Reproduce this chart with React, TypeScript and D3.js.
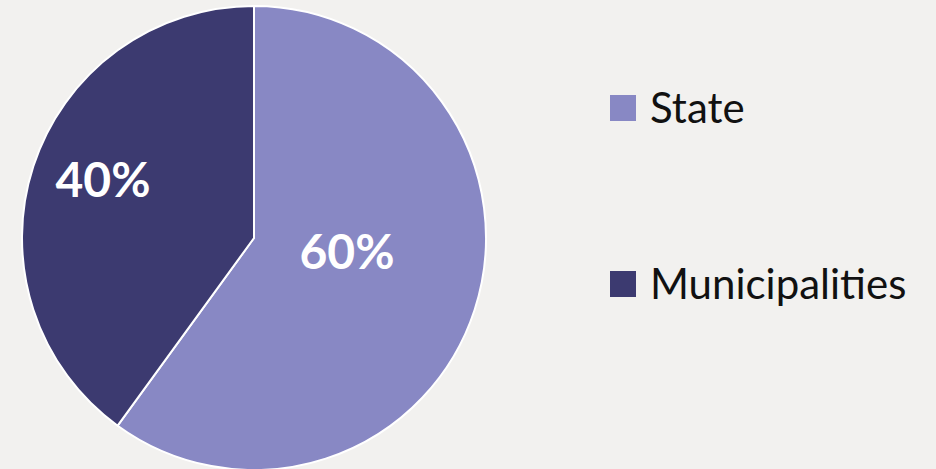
import React from "react";
import * as d3 from "d3";

const categories = ["State", "Municipalities"];
const values = [60, 40];
const colors = ["#8888c4", "#3c3a70"];

const W = 936, H = 469;
const cx = 254, cy = 238, R = 232;

// label anchor points (relative to pie centre)
const labelPos = [
  { dx: 93, dy: 12 },
  { dx: -151, dy: -60 },
];

export default function App() {
  const pie = d3.pie<number>().sort(null).value((d) => d)(values);
  const arc = d3.arc<d3.PieArcDatum<number>>().innerRadius(0).outerRadius(R);
  return (
    <svg width={W} height={H} style={{ position: "fixed", left: 0, top: 0, background: "#f2f1ef" }}>
      <rect width={W} height={H} fill="#f2f1ef" />
      <g transform={`translate(${cx},${cy})`}>
        {pie.map((p, i) => (
          <path key={i} d={arc(p) || ""} fill={colors[i]} stroke="#ffffff" strokeWidth={2} strokeLinejoin="round" />
        ))}
        {pie.map((p, i) => (
          <text
            key={"t" + i}
            x={labelPos[i].dx}
            y={labelPos[i].dy}
            textAnchor="middle"
            dominantBaseline="central"
            fill="#ffffff"
            fontFamily="Lato, 'Open Sans', sans-serif"
            fontWeight={700}
            fontSize={48}
          >
            {Math.round(((p.endAngle - p.startAngle) / (2 * Math.PI)) * 100)}%
          </text>
        ))}
      </g>
      <g fontFamily="Lato, 'Open Sans', sans-serif" fontSize={42} fill="#111111">
        {categories.map((c, i) => (
          <g key={c} transform={`translate(610, ${95 + i * 176})`}>
            <rect width={26} height={26} fill={colors[i]} />
            <text x={40} y={28}>{c}</text>
          </g>
        ))}
      </g>
    </svg>
  );
}
